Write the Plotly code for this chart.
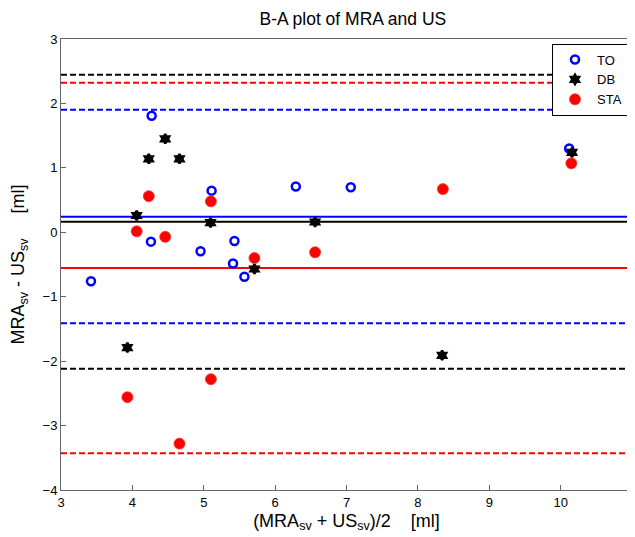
import plotly.graph_objects as go

# TO series
to_x = [3.42, 4.27, 4.26, 4.955, 5.11, 5.43, 5.41, 5.57, 6.29, 7.06, 10.12]
to_y = [-0.76, 1.81, -0.145, -0.295, 0.646, -0.135, -0.485, -0.69, 0.71, 0.70, 1.30]
# DB series
db_x = [3.93, 4.06, 4.23, 4.46, 4.66, 5.095, 5.71, 6.56, 8.34, 10.16]
db_y = [-1.79, 0.26, 1.14, 1.45, 1.14, 0.15, -0.57, 0.16, -1.91, 1.24]
# STA series
sta_x = [3.93, 4.06, 4.23, 4.46, 4.66, 5.10, 5.10, 5.71, 6.56, 8.35, 10.15]
sta_y = [-2.56, 0.015, 0.56, -0.07, -3.28, 0.48, -2.28, -0.40, -0.31, 0.67, 1.07]

# mean and limits of agreement (mean, upper, lower)
to_lines = [0.24, 1.90, -1.41]
db_lines = [0.165, 2.445, -2.12]
sta_lines = [-0.555, 2.32, -3.43]

x_range = [3, 11]
y_range = [-4, 3]

fig = go.Figure()

def add_lines(vals, color):
    mean, up, lo = vals
    fig.add_trace(go.Scatter(x=x_range, y=[mean, mean], mode="lines",
                             line=dict(color=color, width=2), showlegend=False, hoverinfo="skip"))
    for v in (up, lo):
        fig.add_trace(go.Scatter(x=x_range, y=[v, v], mode="lines",
                                 line=dict(color=color, width=2, dash="6px,3px"),
                                 showlegend=False, hoverinfo="skip"))

add_lines(to_lines, "#0000ff")
add_lines(db_lines, "#000000")
add_lines(sta_lines, "#ff0000")

fig.add_trace(go.Scatter(x=to_x, y=to_y, mode="markers", name="TO",
                         marker=dict(symbol="circle-open", size=8, color="#0000ff",
                                     line=dict(width=2.5, color="#0000ff"))))
fig.add_trace(go.Scatter(x=db_x, y=db_y, mode="markers", name="DB",
                         marker=dict(symbol="hexagram", size=7, color="#000000",
                                     line=dict(width=2.5, color="#000000"))))
fig.add_trace(go.Scatter(x=sta_x, y=sta_y, mode="markers", name="STA",
                         marker=dict(symbol="circle", size=11, color="#ff0000",
                                     line=dict(width=0.8, color="#ff3030"))))

font = "Liberation Sans, Arial, sans-serif"
nb = "\u00a0"
fig.update_layout(
    width=627, height=529,
    margin=dict(l=53, r=3, t=30.5, b=47),
    paper_bgcolor="white", plot_bgcolor="white",
    font=dict(family=font, color="#000000"),
    title=dict(text="B-A plot of MRA and US", x=0.55, xanchor="center", y=0.98,
               yanchor="middle", font=dict(size=17.5, family=font)),
    xaxis=dict(range=x_range, dtick=1, ticks="inside", ticklen=5, tickcolor="#666",
               showgrid=False, zeroline=False, showline=True, linecolor="#666",
               linewidth=1, mirror=True, tickfont=dict(size=13),
               title=dict(text="(MRA<sub>sv</sub> + US<sub>sv</sub>)/2" + nb * 4 + "[ml]",
                          font=dict(size=18), standoff=5)),
    yaxis=dict(range=y_range, dtick=1, ticks="inside", ticklen=5, tickcolor="#666",
               showgrid=False, zeroline=False, showline=True, linecolor="#666",
               linewidth=1, mirror=True, tickfont=dict(size=13),
               title=dict(text="MRA<sub>sv</sub> - US<sub>sv</sub>" + nb * 5 + "[ml]",
                          font=dict(size=18), standoff=14)),
    legend=dict(x=0.993, y=0.99, xanchor="right", yanchor="top",
                bordercolor="#000", borderwidth=1, bgcolor="white",
                font=dict(size=13), itemwidth=34, tracegroupgap=0),
)

fig.write_html("out.html")
